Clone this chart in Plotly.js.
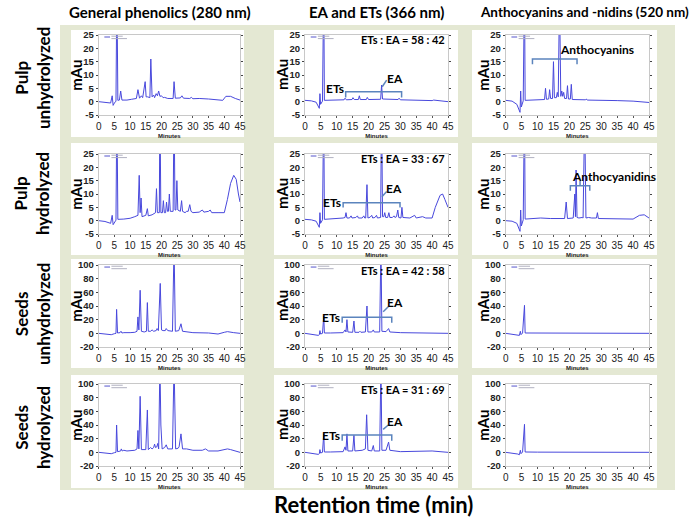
<!DOCTYPE html>
<html><head><meta charset="utf-8">
<script src="https://cdn.plot.ly/plotly-3.0.1.min.js"></script>
<style>html,body{margin:0;padding:0;background:#fff}#chart{width:697px;height:518px}</style>
</head><body><div id="chart"></div>
<script>
// ---- column / row labels ----
const columnTitles = ["General phenolics (280 nm)", "EA and ETs (366 nm)", "Anthocyanins and -nidins (520 nm)"];
const rowTitles = ["Pulp<br>unhydrolyzed", "Pulp<br>hydrolyzed", "Seeds<br>unhydrolyzed", "Seeds<br>hydrolyzed"];
const xTicks = [0,5,10,15,20,25,30,35,40,45];
const yTicksPulp = [-5,0,5,10,15,20,25];
const yTicksSeeds = [-20,0,20,40,60,80,100];

// ---- chromatograms: [minutes, mAu] ----
const pulpUnhyd280 = [[0,0],[2,-0.3],[3.8,-0.5],[4.3,2.2],[4.6,-1.4],[5.0,-0.5],[5.5,0.2],[5.8,45],[6.1,0.5],[6.6,0.6],[7.0,4],[7.4,0.6],[9,0.6],[10.5,0.9],[12,1.2],[12.5,4.5],[13,1.3],[13.6,2.2],[14,1.5],[14.8,7.5],[15.1,1.8],[15.6,1.8],[16.3,1.5],[16.6,16],[17,1.8],[17.5,2.5],[17.8,1.5],[18.3,3],[18.7,2.2],[19.1,4],[19.5,2],[20,2.2],[20.5,1.5],[21,1.6],[22,1.2],[23.7,1.2],[24,7.5],[24.4,1.3],[26,1.4],[26.5,2.2],[27,1.3],[29,1.2],[29.5,1.6],[30,1.1],[32,1.2],[35,1],[38,0.6],[39.5,0.5],[40.5,2],[42,2],[43.5,1.2],[45,0.6]];
const pulpUnhyd366 = [[0,0.5],[2,0.3],[3.5,-0.2],[4.2,-1.5],[4.5,-2.5],[4.7,3],[4.9,-1],[5.5,0.2],[5.9,45],[6.1,0.5],[8,0.5],[10,0.6],[12.3,0.7],[12.6,1.3],[13,0.7],[14.8,0.8],[15.1,1.5],[15.5,0.8],[16.8,0.8],[17.1,2.2],[17.4,0.8],[19.3,0.8],[19.6,1.6],[20,0.8],[23.8,0.9],[24.1,6.2],[24.4,1],[29.3,0.8],[29.6,1.3],[30,0.7],[35,0.5],[40,0.4],[40.5,0.6],[45,0]];
const pulpUnhyd520 = [[0,0.5],[2,0.2],[3.5,-1],[4.2,-3],[4.5,-4],[4.7,4],[4.9,-2],[5.5,0.3],[5.9,45],[6.1,0.5],[10,0.6],[12.2,0.8],[12.5,5],[12.8,0.9],[13.5,1],[13.8,4.5],[14.1,1.2],[14.7,1.2],[15,15],[15.3,1.5],[15.9,1.5],[16.2,3.5],[16.5,1.8],[16.9,40],[17.3,2],[17.6,4],[17.9,2],[18.2,3.5],[18.5,1.2],[19.1,1.2],[19.4,6],[19.7,1],[20.3,1],[20.6,6.5],[20.9,0.8],[25,0.7],[25.3,1],[25.6,0.6],[35,0.4],[40,0.2],[45,-0.3]];
const pulpHyd280 = [[0,0],[2,-0.3],[3.8,-1],[4.3,2],[4.6,-1.5],[5.0,-0.5],[5.5,0.2],[5.8,45],[6.1,0.5],[8,0.6],[10,0.9],[11.5,1.5],[12.5,2],[12.9,17],[13.2,3],[13.5,8.5],[13.8,1.5],[15,2],[15.5,4.5],[15.8,1.8],[17,2.2],[18.1,3],[18.4,12],[18.7,3],[19.3,3],[19.5,45],[19.8,3],[20.3,3],[20.6,7.5],[20.9,3],[21.3,3],[21.6,7],[21.9,3.5],[22.2,3.5],[22.5,10],[22.8,3.5],[23.7,3.5],[24,45],[24.3,4],[24.6,4],[24.9,15],[25.2,4],[26,3.5],[26.4,7.5],[26.7,3.5],[27.5,3],[28,3.5],[28.5,3.5],[29,6],[29.4,3.5],[30,3],[32,3.2],[33,4],[33.5,3.2],[35,3.5],[35.5,4],[36,3],[38,3],[40,3],[41,8],[42,14],[43,17],[43.8,15.5],[44.5,10],[45,7]];
const pulpHyd366 = [[0,0.5],[2,0.3],[3.5,-0.2],[4.2,-1.5],[4.5,-2.5],[4.7,3],[4.9,-1],[5.5,0.3],[5.9,45],[6.1,0.5],[8,0.6],[10,0.8],[12,1],[12.6,1.2],[12.9,3],[13.2,1],[14,1],[14.5,1.8],[14.8,1],[16,1.2],[16.5,1.8],[16.8,1],[18,1],[18.5,1.8],[18.8,1],[19.1,1],[19.5,13.5],[19.8,1],[20.5,1.3],[21,2],[21.3,1],[22,1.2],[22.5,2],[22.8,1],[23.8,1.2],[24.1,45],[24.4,1.5],[24.8,1.5],[25.1,3],[25.4,1.2],[26,1.2],[26.4,3],[26.7,1.2],[27.5,1.2],[28,1.8],[28.3,1.2],[28.8,1.5],[29.2,4],[29.5,1.2],[30.2,1],[30.5,5],[30.8,1.2],[31.5,1.2],[33,1],[34.5,2],[35,1],[37,1.5],[38,1],[40,1],[41,5],[42.5,9.5],[43.3,10],[44,8],[45,5]];
const pulpHyd520 = [[0,0],[2,-0.2],[3.5,-1],[4.2,-3],[4.5,-4],[4.7,4],[4.9,-2],[5.5,0.3],[5.9,45],[6.1,0.6],[9,0.8],[11,1],[14,0.8],[18.5,0.8],[19,7],[19.4,0.8],[21.2,1],[21.7,10],[21.9,1.5],[22.1,19],[22.4,1.2],[23,1],[24,1.2],[24.3,1],[24.8,40],[25.2,1],[26,1.2],[27,1],[28.5,1],[28.8,3],[29.1,0.8],[35,0.6],[40,0.6],[42,2],[43.5,2.2],[45,1]];
const seedsUnhyd280 = [[0,0],[2,-1],[4,-2],[5,-0.5],[5.5,0],[5.7,35],[6,0.5],[6.8,1],[7.1,3],[7.4,0.5],[8,1],[10,1],[11.5,1.5],[12.2,3],[12.5,24],[12.8,5],[13.2,63],[13.6,3],[14.5,2],[15.2,3],[15.5,45],[15.8,3],[16.5,3],[17,5],[17.5,3],[18.3,4],[18.6,7],[19,4],[19.6,73],[20,5],[20.5,4],[21.2,4],[21.5,7],[22,4],[23.5,3],[24,130],[24.4,3],[25.5,4],[26.2,14],[26.7,3],[28,2],[30,1],[35,0.5],[38,-1],[40,1.5],[41,2.5],[43,1],[45,0]];
const seedsUnhyd366 = [[0,0],[2,-1],[4.2,-3],[4.5,-2],[4.7,4],[4.9,-1],[5.5,0],[5.9,25],[6.1,0.5],[8,0.5],[10,1],[12,1],[12.6,5],[12.9,2],[13.2,20],[13.5,2],[15,1.5],[15.4,18],[15.7,1.5],[17,1.5],[17.3,3],[17.6,1.5],[19,2],[19.5,40],[19.8,2],[21,2],[21.5,5],[21.8,2],[23.5,2],[23.9,130],[24.2,3],[25,3],[25.5,2.5],[26.3,7],[26.7,2],[30,1],[40,0.5],[45,0]];
const seedsUnhyd520 = [[0,0],[2,-1],[3.8,-2.5],[4.3,-3],[4.6,3],[4.8,-2],[5.3,0.5],[5.9,41],[6.1,0.5],[10,0.5],[20,0.3],[30,0.2],[45,0]];
const seedsHyd280 = [[0,0],[2,-1],[4,-2],[5,-0.5],[5.5,0],[5.7,40],[6,1],[7,2],[7.2,5],[7.5,2],[8,3],[9,2],[10,2],[11.5,3],[12.2,5],[12.5,32],[12.8,5],[13.2,82],[13.6,4],[15,4],[15.5,62],[15.8,4],[16.5,7],[17,5],[17.5,7],[17.8,12],[18.1,7],[18.5,8],[18.8,13],[19.1,5],[19.5,130],[19.8,40],[20.2,5],[21,7],[21.5,11],[22,5],[23.5,5],[24,130],[24.5,5],[25.3,6],[25.6,8],[26.2,27],[26.7,5],[28,5],[30,3],[33,3],[34,5],[35,2],[38,2],[41,5],[42,4],[45,0]];
const seedsHyd366 = [[0,0],[2,-1],[4.2,-3],[4.5,-2],[4.7,4],[4.9,-1],[5.5,0],[5.9,27],[6.1,0.5],[8,0.5],[10,1],[12,1],[12.6,8],[12.9,3],[13.2,27],[13.5,2],[15,2],[15.4,25],[15.7,2],[17,2],[18,3],[19,5],[19.4,55],[19.8,3],[21,2],[21.5,10],[21.8,2],[23.5,2],[23.9,130],[24.2,3],[25.5,3],[26.3,15],[26.7,3],[30,1],[38,1.5],[40,2],[45,0]];
const seedsHyd520 = [[0,0],[2,-1],[3.8,-2.5],[4.3,-3.5],[4.6,3],[4.8,-2],[5.3,0.5],[5.9,41],[6.1,0.5],[10,0.3],[20,0.3],[35,0.2],[40,-0.5],[43,-0.5],[45,0]];

const series = [pulpUnhyd280, pulpUnhyd366, pulpUnhyd520, pulpHyd280, pulpHyd366, pulpHyd520,
                seedsUnhyd280, seedsUnhyd366, seedsUnhyd520, seedsHyd280, seedsHyd366, seedsHyd520];

const ratioLabels = {1: "ETs : EA = 58 : 42", 4: "ETs : EA = 33 : 67", 7: "ETs : EA = 42 : 58", 10: "ETs : EA = 31 : 69"};

// ---- layout geometry (pixels) ----
const W = 697, H = 518;
const fx = p => p / W, fy = p => 1 - p / H;
const colPx = [[98.7, 240], [305, 448], [505.7, 649]];
const rowPx = [[35, 115], [154, 234], [265, 347], [384, 466]];
const cellX = [[71, 244], [274, 458], [472, 657]];
const cellY = [[30, 137], [143, 255], [259, 368], [375, 488]];
const lineColor = '#4848dc';
const bracketColor = '#5b84bd';
const calibri = 'Lato, "Open Sans", sans-serif';
const arial = '"Liberation Sans", Arial, sans-serif';

const data = [];
const layout = {
  width: W, height: H, margin: {l: 0, r: 0, t: 0, b: 0},
  paper_bgcolor: '#ffffff', plot_bgcolor: 'rgba(0,0,0,0)', showlegend: false,
  shapes: [], annotations: []
};
layout.shapes.push({type: 'rect', xref: 'paper', yref: 'paper', x0: fx(60), x1: fx(675), y0: fy(25), y1: fy(490),
  fillcolor: '#e4e8d3', line: {width: 0}, layer: 'below'});
for (let r = 0; r < 4; r++) for (let c = 0; c < 3; c++) {
  layout.shapes.push({type: 'rect', xref: 'paper', yref: 'paper', x0: fx(cellX[c][0]), x1: fx(cellX[c][1]),
    y0: fy(cellY[r][1]), y1: fy(cellY[r][0]), fillcolor: '#ffffff', line: {width: 0}, layer: 'below'});
}

series.forEach((pts, i) => {
  const r = Math.floor(i / 3), c = i % 3, n = i + 1;
  const xa = n === 1 ? 'x' : 'x' + n, ya = n === 1 ? 'y' : 'y' + n;
  data.push({type: 'scatter', mode: 'lines', x: pts.map(p => p[0]), y: pts.map(p => p[1]),
    xaxis: xa, yaxis: ya, line: {color: lineColor, width: 1}, hoverinfo: 'skip'});
  const seeds = r >= 2;
  const yt = seeds ? yTicksSeeds : yTicksPulp;
  layout['xaxis' + (n === 1 ? '' : n)] = {
    domain: [fx(colPx[c][0]), fx(colPx[c][1])], anchor: ya, range: [0, 45],
    tickvals: xTicks, ticks: 'outside', ticklen: 2, tickcolor: '#555', showgrid: false, zeroline: false,
    showline: true, linecolor: '#c8c8c8', linewidth: 1, mirror: true,
    tickfont: {family: arial, size: 10, color: '#222'},
    title: {text: 'Minutes', font: {family: arial, size: 6, color: '#222', weight: 'bold'}, standoff: 2}
  };
  layout['yaxis' + (n === 1 ? '' : n)] = {
    domain: [fy(rowPx[r][1]), fy(rowPx[r][0])], anchor: xa,
    range: seeds ? [-20, 100] : [-5, 25], tickvals: yt, ticktext: yt.map(v => String(v)),
    ticks: 'outside', ticklen: 2, tickcolor: '#444', showgrid: false, zeroline: false,
    showline: true, linecolor: '#c8c8c8', linewidth: 1, mirror: 'ticks',
    tickfont: {family: arial, size: 9.5, color: '#222', weight: 'bold'}
  };
  layout.annotations.push({xref: 'paper', yref: 'paper', x: fx(colPx[c][0] - 12), y: fy((rowPx[r][0] + rowPx[r][1]) / 2),
    text: 'mAu', textangle: -90, showarrow: false, xanchor: 'right', yanchor: 'middle',
    font: {family: calibri, size: 15, color: '#000', weight: 'bold'}});
  layout.shapes.push({type: 'line', xref: xa + ' domain', yref: ya + ' domain', x0: 0.04, x1: 0.08, y0: 0.975, y1: 0.975,
    line: {color: '#5555cc', width: 1}});
  layout.shapes.push({type: 'line', xref: xa + ' domain', yref: ya + ' domain', x0: 0.09, x1: 0.17, y0: 0.985, y1: 0.985,
    line: {color: '#b0b0c0', width: 1}});
  layout.shapes.push({type: 'line', xref: xa + ' domain', yref: ya + ' domain', x0: 0.09, x1: 0.20, y0: 0.955, y1: 0.955,
    line: {color: '#b0b0c0', width: 1}});
  if (ratioLabels[i]) {
    layout.annotations.push({xref: xa, yref: ya, x: 44.6, y: seeds ? 91.5 : 23.2, text: ratioLabels[i],
      showarrow: false, xanchor: 'right', yanchor: 'middle', font: {family: calibri, size: 11, color: '#000', weight: 'bold'}});
  }
});

const headerX = [160, 376, 584];
const headerSize = [15, 15, 13.5];
columnTitles.forEach((t, c) => {
  layout.annotations.push({xref: 'paper', yref: 'paper', x: fx(headerX[c]), y: fy(12), text: t, showarrow: false,
    xanchor: 'center', yanchor: 'middle', font: {family: calibri, size: headerSize[c], color: '#000', weight: 'bold'}});
});
rowTitles.forEach((t, r) => {
  const cy = [78, 194, 314, 428][r];
  layout.annotations.push({xref: 'paper', yref: 'paper', x: fx(32), y: fy(cy), text: t, showarrow: false, textangle: -90,
    xanchor: 'center', yanchor: 'middle', font: {family: calibri, size: 17, color: '#000', weight: 'bold'}});
});
layout.annotations.push({xref: 'paper', yref: 'paper', x: fx(373), y: fy(504), text: 'Retention time (min)', showarrow: false,
  xanchor: 'center', yanchor: 'middle', font: {family: calibri, size: 22, color: '#000', weight: 'bold'}});

// bracket annotations: [subplot index, x0, x1, y, yDrop, label, labelX, labelY]
const brackets = [
  [1, 12.8, 30.4, 3.7, 1.6, 'ETs', 9.4, 4.8],
  [4, 12.0, 29.9, 6.7, 4.9, 'ETs', 8.4, 6.9],
  [7, 11.7, 27.3, 23.4, 15.6, 'ETs', 8.2, 23.4],
  [10, 11.7, 27.3, 25.4, 17, 'ETs', 8.2, 25],
  [2, 8.4, 22.4, 16, 14, 'Anthocyanins', 28.6, 19.6],
  [5, 20.3, 26.4, 13.1, 11.2, 'Anthocyanidins', 34, 16.5]
];
// EA pointers: [subplot index, x0, y0, x1, y1, labelX, labelY]
const eaPointers = [
  [1, 24.3, 5.6, 25.7, 8.1, 28.3, 8.6],
  [4, 24.2, 9.0, 25.7, 10.9, 28.0, 11.9],
  [7, 24.6, 31.7, 26.2, 39, 28.4, 44.5],
  [10, 24.6, 33.7, 26.2, 40, 28.4, 45.5]
];
const ax = i => (i === 0 ? '' : String(i + 1));
brackets.forEach(b => {
  const [i, x0, x1, y, yd, lab, lx, ly] = b;
  const xr = 'x' + ax(i), yr = 'y' + ax(i);
  layout.shapes.push({type: 'path', xref: xr, yref: yr, path: `M ${x0},${yd} L ${x0},${y} L ${x1},${y} L ${x1},${yd}`,
    line: {color: bracketColor, width: 1.5}});
  if (i === 5) {
    const m = (x0 + x1) / 2;
    layout.shapes.push({type: 'line', xref: xr, yref: yr, x0: m, x1: m, y0: y, y1: y + 1.8, line: {color: bracketColor, width: 1.5}});
  }
  layout.annotations.push({xref: xr, yref: yr, x: lx, y: ly, text: lab, showarrow: false, xanchor: 'center', yanchor: 'middle',
    font: {family: calibri, size: 12, color: '#000', weight: 'bold'}});
});
eaPointers.forEach(p => {
  const [i, x0, y0, x1, y1, lx, ly] = p;
  const xr = 'x' + ax(i), yr = 'y' + ax(i);
  layout.shapes.push({type: 'line', xref: xr, yref: yr, x0, y0, x1, y1, line: {color: bracketColor, width: 1.5}});
  layout.annotations.push({xref: xr, yref: yr, x: lx, y: ly, text: 'EA', showarrow: false, xanchor: 'center', yanchor: 'middle',
    font: {family: calibri, size: 12, color: '#000', weight: 'bold'}});
});

Plotly.newPlot('chart', data, layout, {staticPlot: true});
</script></body></html>
